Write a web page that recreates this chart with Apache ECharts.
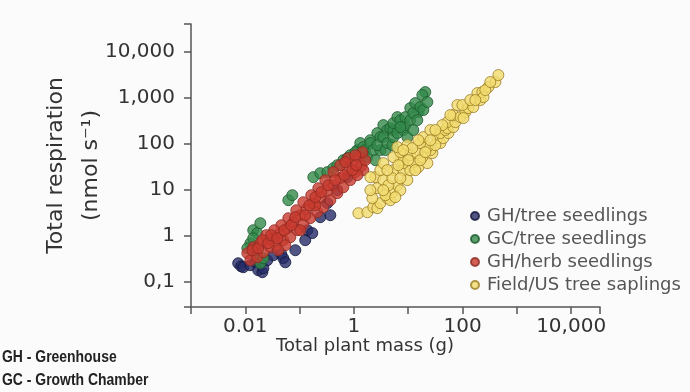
<!DOCTYPE html>
<html>
<head>
<meta charset="utf-8">
<title>Respiration vs plant mass</title>
<script src="https://cdn.jsdelivr.net/npm/echarts@6/dist/echarts.min.js"></script>
<style>
  html, body { margin: 0; padding: 0; background: #fbfbfb; }
  #chart { width: 690px; height: 392px; }
</style>
</head>
<body>
<div id="chart"></div>
<script>
var seriesNames = ['GH/tree seedlings', 'GC/tree seedlings', 'GH/herb seedlings', 'Field/US tree saplings'];

// [total plant mass (g), total respiration (nmol/s)]
var ghTree = [
  [0.0074, 0.255], [0.0084, 0.219], [0.0092, 0.209], [0.0124, 0.231], [0.0153, 0.268],
  [0.0173, 0.18], [0.0206, 0.163], [0.0215, 0.199], [0.0254, 0.296], [0.0328, 0.381],
  [0.0461, 0.40], [0.0501, 0.327], [0.0546, 0.268], [0.0834, 0.489], [0.127, 0.807],
  [0.139, 1.33], [0.171, 1.15], [0.24, 2.55], [0.368, 2.82], [0.324, 5.14],
  [0.495, 9.85], [0.757, 18.9]
];
var gcTree = [
  [0.0124, 0.693], [0.014, 1.33], [0.0166, 1.15], [0.0189, 1.89], [0.0153, 0.489],
  [0.0166, 0.40], [0.0189, 0.255], [0.0215, 0.327], [0.062, 5.97], [0.0735, 7.67],
  [0.014, 0.89], [0.0109, 0.541],
  [0.179, 18.9], [0.24, 23.1], [0.324, 24.3], [0.418, 29.6], [0.638, 44.2],
  [0.495, 34.4], [0.757, 48.9], [1.16, 73], [1.31, 104],
  [0.859, 56.8], [1.06, 66], [1.49, 84.8], [1.49, 56.8], [1.62, 73],
  [1.77, 51.4], [2.01, 120], [2.01, 104], [2.28, 73], [2.48, 44.2],
  [2.7, 171], [3.07, 140], [3.07, 73], [3.48, 255], [4.13, 199],
  [2.7, 93.7], [3.48, 140], [3.8, 73], [4.69, 219], [5.33, 199],
  [4.13, 104], [5.11, 93.7], [5.33, 282], [5.33, 140], [6.31, 380],
  [6.31, 171], [7.16, 327], [8.13, 199], [8.85, 255], [9.64, 140],
  [7.16, 231], [8.85, 380], [10.9, 597], [15.4, 489], [20.6, 1331],
  [10.9, 327], [12.4, 465], [12.4, 199], [13.5, 767], [14.7, 327],
  [16.7, 628], [18.2, 1146], [19.0, 541], [22.5, 807]
];
var ghHerb = [
  [0.0109, 0.421], [0.0124, 0.296], [0.014, 0.568], [0.0166, 0.344], [0.0189, 0.693],
  [0.0215, 0.443], [0.0254, 0.807], [0.0289, 0.568], [0.0328, 0.937], [0.0372, 0.628],
  [0.0441, 1.15], [0.0501, 0.807], [0.0594, 1.47], [0.0675, 0.937], [0.0766, 1.99],
  [0.0908, 1.33], [0.103, 2.82], [0.117, 1.80], [0.133, 3.80], [0.157, 2.43],
  [0.179, 5.14], [0.212, 3.27], [0.24, 6.94], [0.273, 4.21], [0.324, 9.37],
  [0.368, 5.97], [0.418, 12.6], [0.495, 8.48], [0.562, 17.9], [0.638, 11.4],
  [0.757, 26.8], [0.859, 16.3], [0.935, 38], [1.06, 24.3], [1.21, 51.4],
  [1.37, 32.7], [0.789, 48.9], [0.562, 34.4], [0.418, 24.3], [0.297, 16.3],
  [0.221, 10.9], [0.164, 7.67], [0.117, 5.40], [0.0869, 3.62], [0.062, 2.43],
  [0.0461, 1.71], [0.0342, 1.33], [0.0244, 1.04], [1.62, 44.2], [1.43, 66],
  [1.06, 56.8], [0.695, 40], [0.195, 4.64], [0.103, 1.33], [0.0546, 0.628],
  [0.0405, 0.489], [1.49, 26.8], [1.16, 20.9],
  [0.0135, 0.489], [0.0173, 0.541], [0.0206, 0.807], [0.0265, 0.693], [0.0301, 1.04],
  [0.0388, 0.89], [0.0522, 1.33], [0.0704, 1.71], [0.0834, 2.55], [0.127, 2.82],
  [0.151, 4.64], [0.195, 6.94], [0.251, 8.91], [0.338, 12.6], [0.454, 16.3],
  [0.666, 20.9], [0.935, 26.8], [1.11, 34.4]
];
var fieldSaplings = [
  [1.21, 3.11], [1.77, 3.27], [2.28, 4.21], [2.70, 4.00], [3.07, 5.14],
  [4.13, 6.60], [4.69, 5.97], [5.11, 8.91], [6.31, 12.6], [7.16, 9.85],
  [9.64, 16.3], [2.70, 10.9], [2.48, 18.9], [3.48, 16.3], [3.07, 26.8],
  [5.33, 26.8], [8.13, 26.8], [10.9, 26.8], [15.4, 31.1], [8.13, 38],
  [12.4, 40], [22.5, 38], [7.16, 44.2], [5.33, 51.4], [10.9, 56.8],
  [18.2, 51.4], [7.16, 66], [14.7, 62.8], [27.8, 62.8], [25.6, 73],
  [22.5, 84.8], [16.7, 104], [39.1, 104], [34.4, 133], [44.4, 133],
  [39.1, 171], [54.9, 171], [48.3, 199], [52.6, 219], [67.8, 231],
  [52.6, 296], [73.8, 296], [67.8, 421], [91.3, 380], [80.4, 694],
  [113, 489], [128, 597], [158, 628], [188, 1266], [213, 891],
  [232, 1331], [243, 1036], [300, 1710], [403, 2193], [457, 3113],
  [2.18, 6.60], [2.01, 18.9], [3.48, 38], [6.31, 84.8], [9.64, 93.7],
  [19.0, 140], [25.6, 199], [31.6, 93.7], [42.5, 255],
  [3.8, 7.67], [5.79, 6.94], [4.31, 12.6], [5.1, 17.9], [7.16, 17.9],
  [4.13, 26.8], [6.58, 34.4], [10.0, 44.2], [13.5, 26.8], [16.7, 44.2],
  [20.6, 66], [11.9, 80.7], [8.13, 73], [15.4, 120], [25.6, 120],
  [31.6, 199], [59.7, 421], [99.5, 694], [139, 891], [104, 362],
  [172, 891], [263, 1469], [325, 2193], [2.01, 9.85], [3.48, 9.85]
];

var xTickValues = [0.01, 1, 100, 10000];
var xTickLabels = ['0.01', '1', '100', '10,000'];
var yTickValues = [0.1, 1, 10, 100, 1000, 10000];
var yTickLabels = ['0,1', '1', '10', '100', '1,000', '10,000'];

var notes = ['GH - Greenhouse', 'GC - Growth Chamber'];

var font = "'DejaVu Sans', sans-serif";
var noteFont = "bold 17px 'Liberation Sans', sans-serif";
var axisColor = '#555';

// only label the decades that the original prints
function tickLabel(values, labels) {
  return function (v) {
    var lv = Math.log10(v);
    for (var i = 0; i < values.length; i++) {
      if (Math.abs(Math.log10(values[i]) - lv) < 1e-6) return labels[i];
    }
    return '';
  };
}

function dots(name, data, fill, edge) {
  return {
    name: name,
    type: 'scatter',
    data: data,
    symbol: 'circle',
    symbolSize: 11,
    itemStyle: { color: fill, borderColor: edge, borderWidth: 1 }
  };
}

var option = {
  animation: false,
  backgroundColor: '#fbfbfb',
  grid: { left: 191, right: 90, top: 24, bottom: 85, containLabel: false, outerBoundsMode: 'none' },
  legend: {
    data: seriesNames,
    orient: 'vertical',
    left: 470,
    top: 207,
    padding: 0,
    itemGap: 5,
    itemWidth: 14,
    itemHeight: 8,
    icon: 'circle',
    selectedMode: false,
    textStyle: { fontFamily: font, fontSize: 18, color: '#555' }
  },
  xAxis: {
    type: 'log',
    logBase: 10,
    min: 0.001,
    max: 34000,
    splitNumber: 6,
    name: 'Total plant mass (g)',
    nameLocation: 'middle',
    nameGap: 30,
    nameMoveOverlap: false,
    nameTextStyle: { fontFamily: font, fontSize: 18, color: '#333', padding: [0, 61, 0, 0] },
    axisLine: { onZero: false, lineStyle: { color: axisColor, width: 1.5 } },
    axisTick: { length: 7, lineStyle: { color: axisColor, width: 1.5 } },
    axisLabel: {
      margin: 10,
      fontFamily: font,
      fontSize: 20,
      color: '#333',
      formatter: tickLabel(xTickValues, xTickLabels)
    },
    splitLine: { show: false }
  },
  yAxis: {
    type: 'log',
    logBase: 10,
    min: 0.0286,
    max: 40000,
    splitNumber: 6,
    name: 'Total respiration\n(nmol s\u207b\u00b9)',
    nameLocation: 'middle',
    nameRotate: 90,
    nameGap: 82,
    nameMoveOverlap: false,
    nameTextStyle: { fontFamily: font, fontSize: 22, lineHeight: 35, color: '#333' },
    axisLine: { onZero: false, lineStyle: { color: axisColor, width: 1.5 } },
    axisTick: { length: 7, lineStyle: { color: axisColor, width: 1.5 } },
    axisLabel: {
      margin: 16,
      fontFamily: font,
      fontSize: 20,
      color: '#333',
      formatter: tickLabel(yTickValues, yTickLabels)
    },
    splitLine: { show: false }
  },
  graphic: [
    {
      type: 'text', left: 2, top: 349, scaleX: 0.82,
      style: { text: notes[0], fill: '#222', font: noteFont }
    },
    {
      type: 'text', left: 2, top: 372, scaleX: 0.82,
      style: { text: notes[1], fill: '#222', font: noteFont }
    }
  ],
  series: [
    dots(seriesNames[0], ghTree, '#262c68', '#12163a'),
    dots(seriesNames[1], gcTree, '#33894a', '#1d5a2e'),
    dots(seriesNames[2], ghHerb, '#c83a2e', '#8c2a22'),
    dots(seriesNames[3], fieldSaplings, '#f1dc6e', '#9c7c22')
  ]
};

var chart = echarts.init(document.getElementById('chart'));
chart.setOption(option);
</script>
</body>
</html>
